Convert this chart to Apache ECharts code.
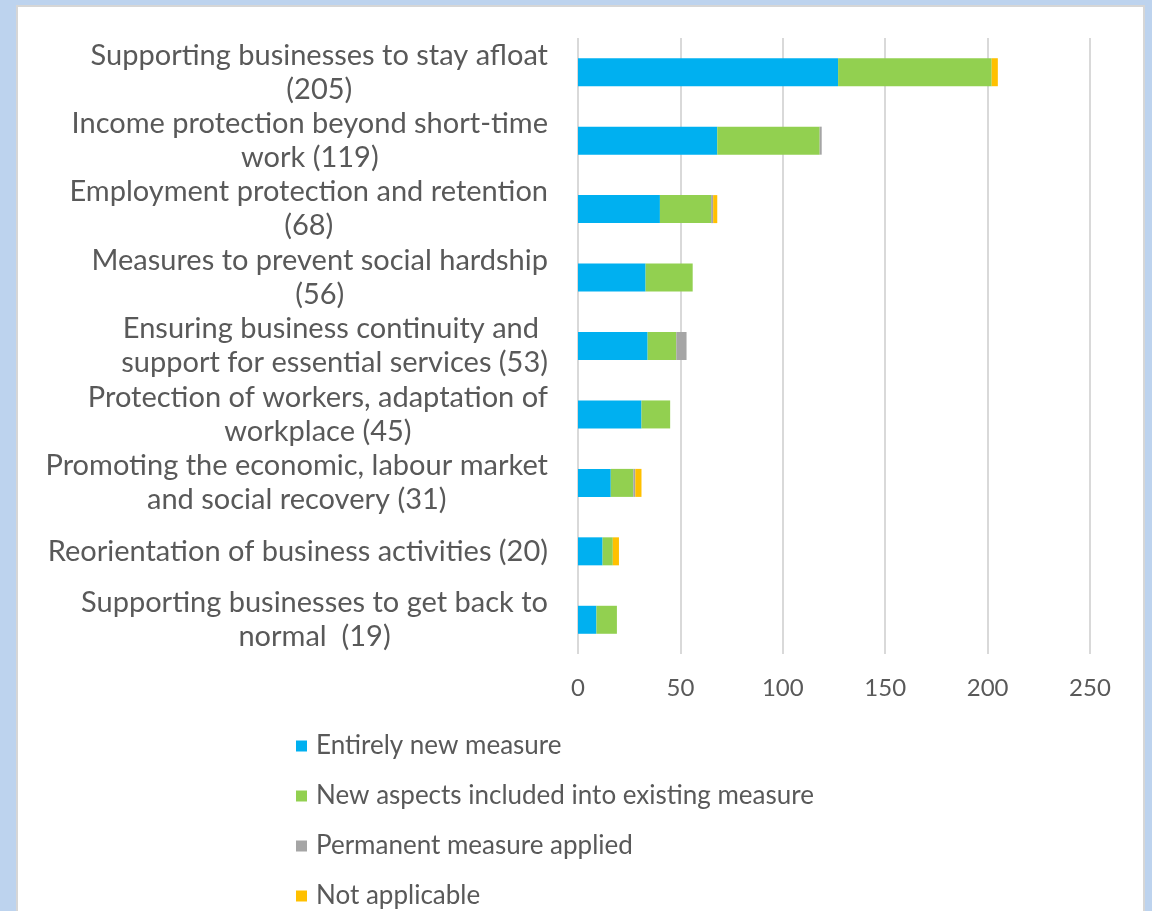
<!DOCTYPE html>
<html>
<head>
<meta charset="utf-8">
<script src="https://cdn.jsdelivr.net/npm/echarts@6/dist/echarts.min.js"></script>
<style>
html,body{margin:0;padding:0;width:1152px;height:911px;background:#bdd3ee;overflow:hidden;}
#panel{position:absolute;left:16px;top:5px;width:1129px;height:920px;background:#fff;border:2px solid #d6d6d6;box-sizing:border-box;}
#chart{position:absolute;left:0;top:0;width:1152px;height:911px;}
</style>
</head>
<body>
<div id="panel"></div>
<div id="chart"></div>
<script>
const categories = [
  "Supporting businesses to stay afloat\n(205)",
  "Income protection beyond short-time\nwork (119)",
  "Employment protection and retention\n(68)",
  "Measures to prevent social hardship\n(56)",
  "Ensuring business continuity and \nsupport for essential services (53)",
  "Protection of workers, adaptation of\nworkplace (45)",
  "Promoting the economic, labour market\nand social recovery (31)",
  "Reorientation of business activities (20)",
  "Supporting businesses to get back to\nnormal  (19)"
];
const entirelyNew = [127, 68, 40, 33, 34, 31, 16, 12, 9];
const newAspects  = [75, 50, 25, 23, 14, 14, 11, 5, 10];
const permanent   = [0, 1, 1, 0, 5, 0, 1, 0, 0];
const notApplicable = [3, 0, 2, 0, 0, 0, 3, 3, 0];
const seriesNames = ["Entirely new measure", "New aspects included into existing measure", "Permanent measure applied", "Not applicable"];
const xTicks = [0, 50, 100, 150, 200, 250];

const colors = ["#00b0f0", "#92d050", "#a5a5a5", "#ffc000"];
const font = "Lato, 'Open Sans', sans-serif";
const seriesData = [entirelyNew, newAspects, permanent, notApplicable];

const chart = echarts.init(document.getElementById('chart'), null, {renderer: 'canvas'});
chart.setOption({
  backgroundColor: 'transparent',
  animation: false,
  color: colors,
  grid: {left: 578, right: 62, top: 38, bottom: 257, containLabel: false},
  legend: {
    orient: 'vertical', left: 291, top: 728, height: 182,
    itemWidth: 11, itemHeight: 11, itemGap: 24,
    icon: 'rect',
    textStyle: {color: '#595959', fontSize: 26, lineHeight: 25, fontFamily: font, padding: [0,0,0,4]},
    data: seriesNames
  },
  xAxis: {
    type: 'value', min: xTicks[0], max: xTicks[xTicks.length-1], interval: 50,
    axisLine: {show: false}, axisTick: {show: false},
    splitLine: {show: true, lineStyle: {color: '#d9d9d9', width: 2}},
    axisLabel: {color: '#595959', fontSize: 24, fontFamily: font, margin: 22}
  },
  yAxis: {
    type: 'category', inverse: true, data: categories,
    axisLine: {show: false}, axisTick: {show: false},
    axisLabel: {
      margin: 30, align: 'right',
      formatter: function(v){ return v.split('\n').map(s => '{a|' + s + '}').join('\n'); },
      rich: {a: {color: '#595959', fontSize: 29, fontFamily: font, lineHeight: 34, align: 'center'}}
    }
  },
  series: seriesNames.map((n, i) => ({
    name: n, type: 'bar', stack: 'total', barWidth: 28,
    data: seriesData[i],
    itemStyle: {color: colors[i]}
  }))
});
</script>
</body>
</html>
